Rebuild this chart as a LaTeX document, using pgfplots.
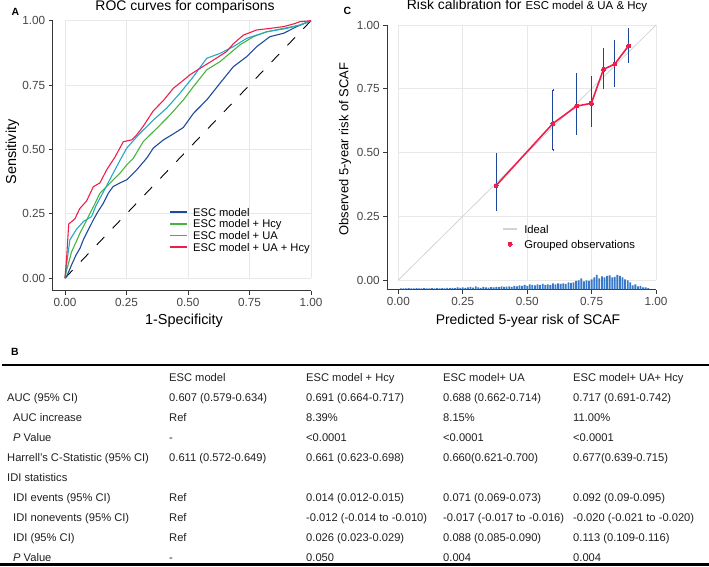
\documentclass[border=0pt]{standalone}
\usepackage{fontspec}
\setmainfont{Liberation Sans}
\usepackage{pgfplots}
\pgfplotsset{compat=1.18}
\definecolor{cBlue}{RGB}{31,73,155}
\definecolor{cGreen}{RGB}{70,180,60}
\definecolor{cCyan}{RGB}{40,165,200}
\definecolor{cRed}{RGB}{238,30,75}
\definecolor{cErr}{RGB}{30,70,150}
\definecolor{cHist}{RGB}{55,120,200}
\definecolor{cGrid}{RGB}{232,232,232}
\definecolor{cIdeal}{RGB}{212,212,212}
\definecolor{cAxis}{RGB}{55,55,55}
\definecolor{cTick}{RGB}{70,70,70}
\pgfplotsset{
 myaxis/.style={
  scale only axis, clip=false,
  axis x line*=bottom, axis y line*=left,
  axis line style={cAxis, line width=1pt, -},
  tick style={cAxis, line width=0.8pt},
  tick align=outside, major tick length=4bp,
  xtick={0,0.25,0.5,0.75,1}, ytick={0,0.25,0.5,0.75,1},
  /pgf/number format/fixed, /pgf/number format/fixed zerofill,
  /pgf/number format/precision=2, /pgf/number format/assume math mode=true,
  ticklabel style={font=\fontsize{11.8}{12}\selectfont, text=cTick},
 },
}
\newcommand{\panelgrid}{%
 \draw[cGrid, line width=0.8pt] (axis cs:0,0) -- (axis cs:0,1);
 \draw[cGrid, line width=0.8pt] (axis cs:0.25,0) -- (axis cs:0.25,1);
 \draw[cGrid, line width=0.8pt] (axis cs:0.5,0) -- (axis cs:0.5,1);
 \draw[cGrid, line width=0.8pt] (axis cs:0.75,0) -- (axis cs:0.75,1);
 \draw[cGrid, line width=0.8pt] (axis cs:1,0) -- (axis cs:1,1);
 \draw[cGrid, line width=0.8pt] (axis cs:0,0) -- (axis cs:1,0);
 \draw[cGrid, line width=0.8pt] (axis cs:0,0.25) -- (axis cs:1,0.25);
 \draw[cGrid, line width=0.8pt] (axis cs:0,0.5) -- (axis cs:1,0.5);
 \draw[cGrid, line width=0.8pt] (axis cs:0,0.75) -- (axis cs:1,0.75);
 \draw[cGrid, line width=0.8pt] (axis cs:0,1) -- (axis cs:1,1);
}
\newcommand{\tf}{\fontsize{11.2}{13}\selectfont}
\newcommand{\lf}{\fontsize{11.2}{13}\selectfont}
\begin{document}
\begin{tikzpicture}
\useasboundingbox (0bp,0bp) rectangle (709bp,567bp);
% ---------------- Panel A ----------------
\begin{axis}[myaxis, at={(52.7bp,276bp)}, anchor=south west,
  width=258.3bp, height=270.3bp, xmin=-0.05, xmax=1, ymin=-0.05, ymax=1]
\panelgrid
\addplot[black, line width=0.9pt, dash pattern=on 11bp off 12bp] coordinates {(0,0) (1,1)};
\addplot[cBlue, line width=1.1pt] coordinates {(0,0) (0.007,0.006) (0.027,0.052) (0.045,0.09) (0.061,0.116) (0.075,0.15) (0.088,0.175) (0.115,0.226) (0.135,0.26) (0.156,0.291) (0.176,0.33) (0.196,0.356) (0.224,0.37) (0.251,0.382) (0.291,0.42) (0.332,0.466) (0.359,0.505) (0.4,0.537) (0.44,0.56) (0.481,0.585) (0.522,0.64) (0.576,0.692) (0.63,0.757) (0.684,0.821) (0.738,0.86) (0.779,0.899) (0.833,0.938) (0.888,0.951) (0.942,0.977) (1,1)};
\addplot[cGreen, line width=1.1pt] coordinates {(0,0) (0.007,0.032) (0.027,0.103) (0.045,0.14) (0.061,0.175) (0.08,0.21) (0.102,0.252) (0.122,0.29) (0.142,0.33) (0.183,0.369) (0.224,0.408) (0.251,0.44) (0.278,0.466) (0.318,0.53) (0.373,0.582) (0.427,0.634) (0.481,0.692) (0.522,0.744) (0.576,0.809) (0.63,0.841) (0.711,0.906) (0.766,0.938) (0.82,0.957) (0.888,0.97) (0.955,0.983) (1,1)};
\addplot[cCyan, line width=1.1pt] coordinates {(0,0) (0.007,0.058) (0.02,0.149) (0.047,0.19) (0.075,0.22) (0.108,0.239) (0.125,0.28) (0.142,0.31) (0.17,0.36) (0.196,0.408) (0.225,0.46) (0.251,0.505) (0.305,0.563) (0.359,0.614) (0.413,0.66) (0.467,0.718) (0.522,0.783) (0.576,0.854) (0.63,0.873) (0.684,0.899) (0.738,0.931) (0.82,0.957) (0.901,0.97) (0.955,0.983) (1,1)};
\addplot[cRed, line width=1.1pt] coordinates {(0,0) (0.005,0.06) (0.007,0.084) (0.015,0.21) (0.04,0.23) (0.06,0.27) (0.088,0.30) (0.115,0.355) (0.142,0.37) (0.169,0.42) (0.203,0.47) (0.237,0.53) (0.271,0.537) (0.291,0.556) (0.318,0.59) (0.359,0.65) (0.4,0.69) (0.44,0.737) (0.474,0.763) (0.508,0.79) (0.549,0.815) (0.603,0.847) (0.657,0.88) (0.684,0.91) (0.725,0.944) (0.779,0.964) (0.833,0.97) (0.888,0.977) (0.928,0.987) (0.955,0.996) (1,1)};
% legend (samples drawn through the axis)
\addplot[cBlue, line width=1.6pt] coordinates {(0.427,0.256) (0.496,0.256)};
\addplot[cGreen, line width=1.6pt] coordinates {(0.427,0.211) (0.496,0.211)};
\addplot[cCyan, line width=1.6pt] coordinates {(0.427,0.166) (0.496,0.166)};
\addplot[cRed, line width=1.6pt] coordinates {(0.427,0.120) (0.496,0.120)};
\node[anchor=base west, inner sep=0pt, font=\lf] at (axis cs:0.52,0.2405) {ESC model};
\node[anchor=base west, inner sep=0pt, font=\lf] at (axis cs:0.52,0.1955) {ESC model + Hcy};
\node[anchor=base west, inner sep=0pt, font=\lf] at (axis cs:0.52,0.1505) {ESC model + UA};
\node[anchor=base west, inner sep=0pt, font=\lf] at (axis cs:0.52,0.1045) {ESC model + UA + Hcy};
\end{axis}
% ---------------- Panel C ----------------
\begin{axis}[myaxis, at={(387.3bp,277bp)}, anchor=south west,
  width=268.7bp, height=265bp, xmin=-0.043, xmax=1, ymin=-0.039, ymax=1]
\panelgrid
\addplot[cIdeal, line width=0.8pt] coordinates {(0,0) (1,1)};
\addplot[draw=none, mark=none,
  error bars/.cd, y dir=both, y explicit,
  error bar style={draw=cErr, line width=1pt},
  error mark=-, error mark options={draw=cErr, line width=0.8pt, mark size=1.2pt}]
  coordinates {
  (0.379,0.370) += (0,0.124) -= (0,0.095)
  (0.600,0.614) += (0,0.130) -= (0,0.104)
  (0.692,0.682) += (0,0.126) -= (0,0.107)
  (0.749,0.693) += (0,0.102) -= (0,0.088)
  (0.796,0.826) += (0,0.080) -= (0,0.074)
  (0.840,0.847) += (0,0.090) -= (0,0.086)
  (0.894,0.919) += (0,0.064) -= (0,0.063)};
\addplot[cRed, line width=1.6pt, mark=*, mark size=2bp, mark options={fill=cRed, draw=cRed, line width=0pt}]
  coordinates {(0.379,0.370) (0.600,0.614) (0.692,0.682) (0.749,0.693) (0.796,0.826) (0.840,0.847) (0.894,0.919)};
% legend
\addplot[cIdeal, line width=1.3pt] coordinates {(0.406,0.2) (0.461,0.2)};
\addplot[only marks, mark=*, mark size=2bp, mark options={fill=cRed, draw=cRed, line width=0pt}] coordinates {(0.434,0.141)};
\node[anchor=base west, inner sep=0pt, font=\fontsize{11.3}{13}\selectfont] at (axis cs:0.488,0.1843) {Ideal};
\node[anchor=base west, inner sep=0pt, font=\fontsize{11.3}{13}\selectfont] at (axis cs:0.488,0.1253) {Grouped observations};
\end{axis}
% histogram overlay (units: bp above bottom axis line)
\begin{axis}[at={(387.3bp,277bp)}, anchor=south west, scale only axis,
  width=268.7bp, height=265bp, xmin=-0.043, xmax=1, ymin=-0.6, ymax=264.4,
  hide axis, clip=false]
\addplot[ybar, bar width=0.007, bar shift=0pt, fill=cHist, draw=none] coordinates {
(0.01,1) (0.02,1) (0.03,1) (0.04,1.2) (0.05,1) (0.06,1) (0.07,1.2) (0.08,1) (0.09,1) (0.10,1.2)
(0.11,1) (0.12,1) (0.13,1.3) (0.14,1) (0.15,1.2) (0.16,1) (0.17,1.3) (0.18,1) (0.19,1.5) (0.20,1.2)
(0.21,1.5) (0.22,1.3) (0.23,2) (0.24,1.5) (0.25,2) (0.26,1.5) (0.27,2) (0.28,2.5) (0.29,1.8) (0.30,3)
(0.31,2) (0.32,1.5) (0.33,2.5) (0.34,2) (0.35,1.8) (0.36,2.2) (0.37,2) (0.38,2.5) (0.39,2.2) (0.40,3)
(0.41,2.5) (0.42,2.8) (0.43,3) (0.44,2.5) (0.45,3.5) (0.46,3) (0.47,4) (0.48,3.5) (0.49,4.5) (0.50,3.5)
(0.51,5) (0.52,4.5) (0.53,4) (0.54,5) (0.55,4.5) (0.56,5.5) (0.57,4.5) (0.58,5) (0.59,4.5) (0.60,6)
(0.61,5) (0.62,6) (0.63,5.5) (0.64,6) (0.65,5.5) (0.66,7) (0.67,6.5) (0.68,7) (0.69,8.5) (0.70,9)
(0.71,11) (0.72,8) (0.73,9) (0.74,8.5) (0.75,10) (0.76,12) (0.77,14.5) (0.78,11) (0.79,13) (0.80,12)
(0.81,13.5) (0.82,14) (0.83,12) (0.84,12.5) (0.85,14.5) (0.86,13.5) (0.87,12) (0.88,10) (0.89,9) (0.90,7)
(0.91,4) (0.92,5) (0.93,3) (0.94,3.5) (0.95,2) (0.96,2) (0.97,1.2)};
\end{axis}
% ---------------- titles and labels ----------------
\node[anchor=base west, font=\bfseries\fontsize{10.5}{12}\selectfont] at (8bp,551.5bp) {A};
\node[anchor=base west, font=\bfseries\fontsize{10.5}{12}\selectfont] at (340bp,552bp) {C};
\node[anchor=base west, font=\bfseries\fontsize{10.5}{12}\selectfont] at (7.5bp,211.5bp) {B};
\node[anchor=base, font=\fontsize{14}{16}\selectfont] at (185bp,556.3bp) {ROC curves for comparisons};
\node[anchor=base west, inner sep=0pt] at (406.7bp,557bp) {\fontsize{14}{16}\selectfont Risk calibration for {\fontsize{11.5}{13}\selectfont ESC model \& UA \& Hcy}};
\node[anchor=base, font=\fontsize{14.5}{16}\selectfont] at (184bp,242bp) {1-Specificity};
\node[rotate=90, font=\fontsize{14.5}{16}\selectfont] at (12.5bp,415bp) {Sensitivity};
\node[anchor=base, font=\fontsize{14}{16}\selectfont] at (528bp,242bp) {Predicted 5-year risk of SCAF};
\node[rotate=90, font=\fontsize{13}{15}\selectfont] at (345bp,418bp) {Observed 5-year risk of SCAF};
% ---------------- table ----------------
\draw[black, line width=1.8bp] (2bp,202bp) -- (709bp,202bp);
\draw[black, line width=2.5bp] (0bp,2.5bp) -- (709bp,2.5bp);
\begin{scope}[every node/.style={anchor=base west, inner sep=0pt, font=\tf, text=black!88}]
\node at (169bp,185.7bp) {ESC model};
\node at (306bp,185.7bp) {ESC model + Hcy};
\node at (443bp,185.7bp) {ESC model+ UA};
\node at (573bp,185.7bp) {ESC model+ UA+ Hcy};
\node at (7bp,165.7bp) {AUC (95\% CI)};
\node at (169bp,165.7bp) {0.607 (0.579-0.634)};
\node at (306bp,165.7bp) {0.691 (0.664-0.717)};
\node at (443bp,165.7bp) {0.688 (0.662-0.714)};
\node at (573bp,165.7bp) {0.717 (0.691-0.742)};
\node at (13bp,145.7bp) {AUC increase};
\node at (169bp,145.7bp) {Ref};
\node at (306bp,145.7bp) {8.39\%};
\node at (443bp,145.7bp) {8.15\%};
\node at (573bp,145.7bp) {11.00\%};
\node at (13bp,125.7bp) {\textit{P} Value};
\node at (169bp,125.7bp) {-};
\node at (306bp,125.7bp) {<0.0001};
\node at (443bp,125.7bp) {<0.0001};
\node at (573bp,125.7bp) {<0.0001};
\node at (7bp,105.7bp) {Harrell's C-Statistic (95\% CI)};
\node at (169bp,105.7bp) {0.611 (0.572-0.649)};
\node at (306bp,105.7bp) {0.661 (0.623-0.698)};
\node at (443bp,105.7bp) {0.660(0.621-0.700)};
\node at (573bp,105.7bp) {0.677(0.639-0.715)};
\node at (7bp,85.7bp) {IDI statistics};
\node at (13bp,65.7bp) {IDI events (95\% CI)};
\node at (169bp,65.7bp) {Ref};
\node at (306bp,65.7bp) {0.014 (0.012-0.015)};
\node at (443bp,65.7bp) {0.071 (0.069-0.073)};
\node at (573bp,65.7bp) {0.092 (0.09-0.095)};
\node at (13bp,45.7bp) {IDI nonevents (95\% CI)};
\node at (169bp,45.7bp) {Ref};
\node at (306bp,45.7bp) {-0.012 (-0.014 to -0.010)};
\node at (443bp,45.7bp) {-0.017 (-0.017 to -0.016)};
\node at (573bp,45.7bp) {-0.020 (-0.021 to -0.020)};
\node at (13bp,25.7bp) {IDI (95\% CI)};
\node at (169bp,25.7bp) {Ref};
\node at (306bp,25.7bp) {0.026 (0.023-0.029)};
\node at (443bp,25.7bp) {0.088 (0.085-0.090)};
\node at (573bp,25.7bp) {0.113 (0.109-0.116)};
\node at (13bp,5.7bp) {\textit{P} Value};
\node at (169bp,5.7bp) {-};
\node at (306bp,5.7bp) {0.050};
\node at (443bp,5.7bp) {0.004};
\node at (573bp,5.7bp) {0.004};
\end{scope}
\end{tikzpicture}
\end{document}
